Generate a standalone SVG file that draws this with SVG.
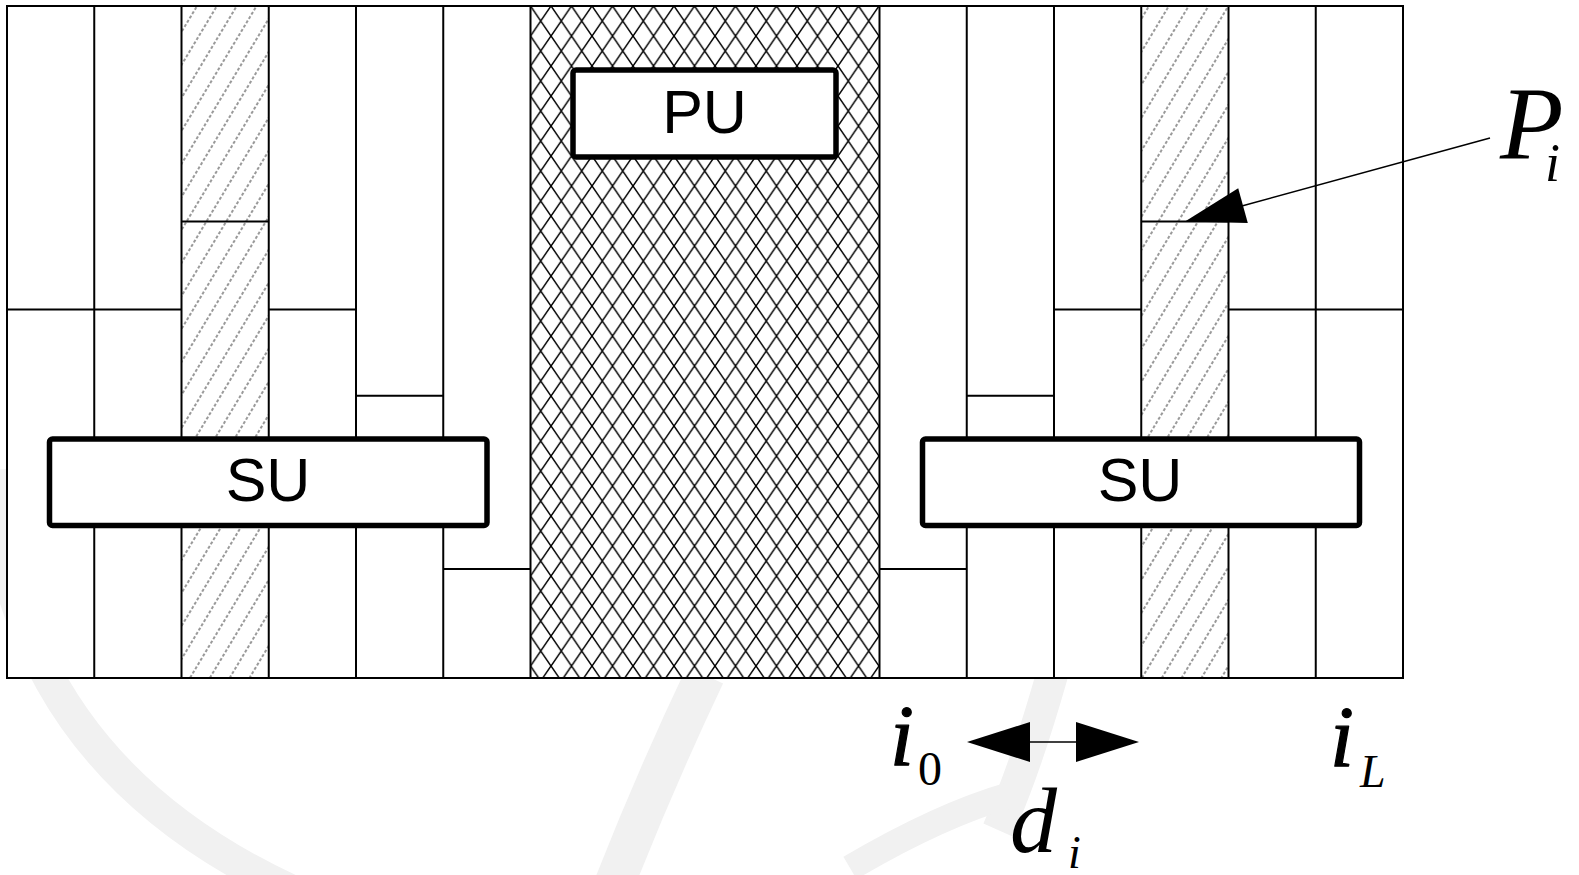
<svg xmlns="http://www.w3.org/2000/svg" width="1579" height="875" viewBox="0 0 1579 875">
<style>
.grid{fill:none;stroke:#000;stroke-width:2}
.box{fill:#fff;stroke:#000;stroke-width:5.5}
.lbl{font-family:"Liberation Sans",Arial,sans-serif;font-size:61px;fill:#000;text-anchor:middle}
.math{font-family:"Liberation Serif","Times New Roman",serif;font-style:italic;fill:#000}
.heavy{stroke:#000;stroke-width:1.2;stroke-linejoin:round}
.up{font-family:"Liberation Serif","Times New Roman",serif;fill:#000}
.wm{fill:none;stroke:#f1f1f1;stroke-linecap:butt}
.thin{stroke:#000;stroke-width:1.6;fill:none}
</style>
<defs>
<pattern id="hatch" patternUnits="userSpaceOnUse" width="17" height="10" patternTransform="rotate(31)">
<line x1="2" y1="0" x2="2" y2="10" stroke="#8f8f8f" stroke-width="1.8" stroke-dasharray="3 2"/>
</pattern>
<pattern id="cross" patternUnits="userSpaceOnUse" x="530.5" y="6" width="20.5" height="30">
<path d="M0 0 L20.5 30 M20.5 0 L0 30" stroke="#000" stroke-width="1.5" fill="none"/>
</pattern>
</defs>
<rect width="1579" height="875" fill="#fff"/>
<g id="watermark">
<path class="wm" stroke-width="32" d="M-8 470 Q 10 760 290 890"/>
<path class="wm" stroke-width="40" d="M705 675 Q 655 780 612 890"/>
<path class="wm" stroke-width="32" d="M1052 675 Q 1025 770 998 830"/>
<path class="wm" stroke-width="26" stroke="#f6f6f6" d="M850 868 Q 940 815 1010 795"/>
</g>
<g id="grid">
<rect x="7" y="6" width="1396" height="672" fill="#fff"/>
<rect id="col-hatch-left" x="181.5" y="6" width="87.25" height="672" fill="url(#hatch)"/>
<rect id="col-hatch-right" x="1141.25" y="6" width="87.25" height="672" fill="url(#hatch)"/>
<rect id="pu-band" x="530.5" y="6" width="349" height="672" fill="url(#cross)"/>
<path class="grid" d="M7 6 H1403 V678 H7 Z
M94.25 6 V678 M181.5 6 V678 M268.75 6 V678 M356 6 V678 M443.25 6 V678 M530.5 6 V678
M879.5 6 V678 M966.75 6 V678 M1054 6 V678 M1141.25 6 V678 M1228.5 6 V678 M1315.75 6 V678
M7 309.5 H181.5 M268.75 309.5 H356 M1054 309.5 H1141.25 M1228.5 309.5 H1403
M181.5 221.5 H268.75 M1141.25 221.5 H1228.5
M356 395.8 H443.25 M966.75 395.8 H1054
M443.25 569 H530.5 M879.5 569 H966.75"/>
</g>
<g id="node-PU">
<rect class="box" x="573" y="70" width="263" height="87" rx="3"/>
<text class="lbl" x="704.5" y="133">PU</text>
</g>
<g id="node-SU-left">
<rect class="box" x="49.5" y="439" width="437.5" height="86.5" rx="3"/>
<text class="lbl" x="268" y="501">SU</text>
</g>
<g id="node-SU-right">
<rect class="box" x="922.5" y="439" width="437" height="86.5" rx="3"/>
<text class="lbl" x="1140" y="501">SU</text>
</g>
<g id="connectors">
<line class="thin" x1="1490" y1="138" x2="1240" y2="206.5"/>
<polygon points="1185,221.5 1238.2,188.3 1247.8,223.1" fill="#000"/>
<line class="thin" x1="1028" y1="742" x2="1078" y2="742"/>
<polygon points="967,742 1030,722 1030,762" fill="#000"/>
<polygon points="1139,742 1076,722 1076,762" fill="#000"/>
</g>
<g id="labels">
<text class="math" x="1500" y="159" font-size="104">P</text>
<text class="math" x="1545" y="181" font-size="54">i</text>
<text class="math heavy" x="890" y="765" font-size="86">i</text>
<text class="up" x="918" y="785" font-size="48">0</text>
<text class="math" x="1010" y="852" font-size="94">d</text>
<text class="math" x="1068" y="868" font-size="46">i</text>
<text class="math heavy" x="1330" y="766" font-size="86">i</text>
<text class="math" x="1360" y="787" font-size="46">L</text>
</g>
</svg>
